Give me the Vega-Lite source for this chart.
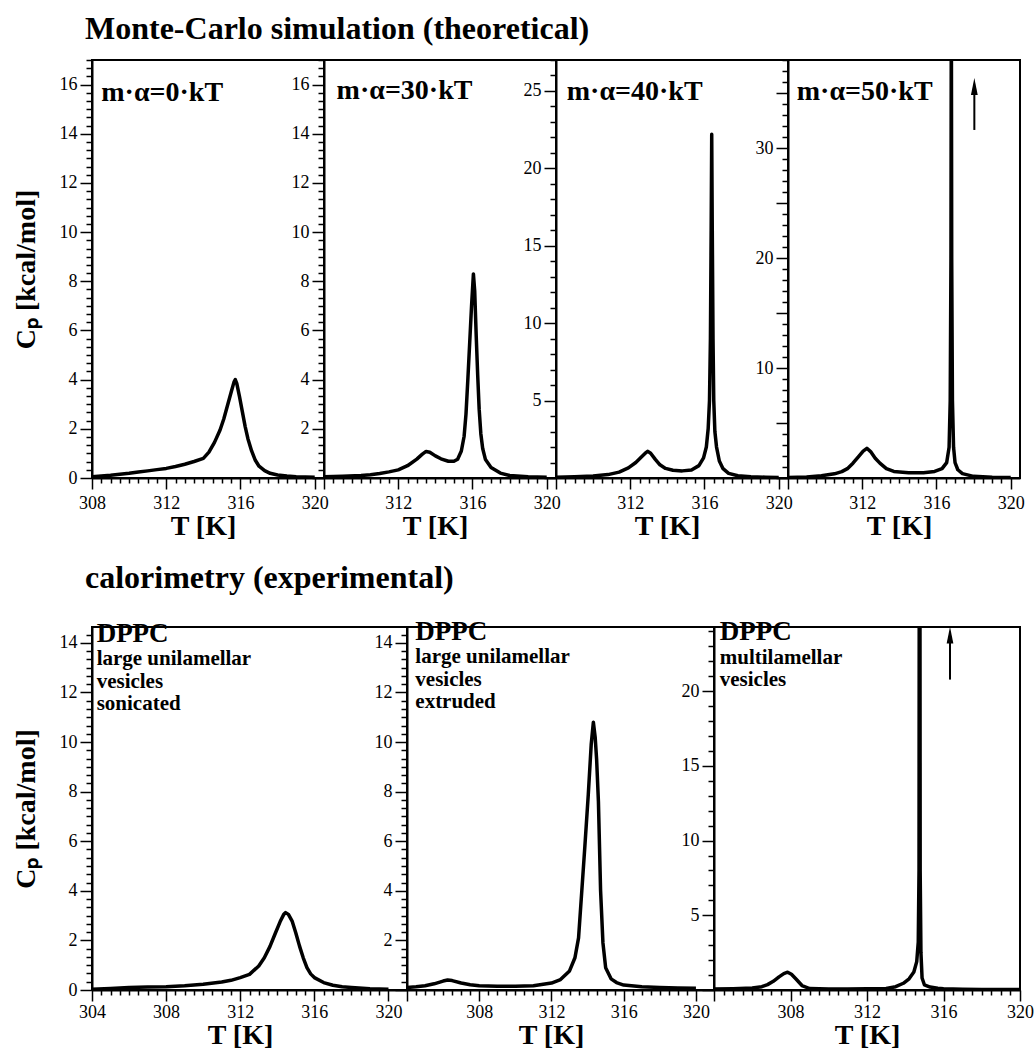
{
  "$schema": "https://vega.github.io/schema/vega-lite/v6.json",
  "padding": {"left": 11, "top": 13, "right": 0, "bottom": 0},
  "background": "white",
  "config": {
    "font": "Liberation Serif",
    "view": {"stroke": "black", "strokeWidth": 2},
    "title": {"font": "Liberation Serif", "fontSize": 32, "fontWeight": "bold", "color": "black", "anchor": "start", "frame": "group"}
  },
  "datasets": {
    "curves": [
      {"p": "p1", "T": 308.0, "Cp": 0.05}, {"p": "p1", "T": 308.5, "Cp": 0.08}, {"p": "p1", "T": 309.0, "Cp": 0.11}, {"p": "p1", "T": 309.5, "Cp": 0.15}, {"p": "p1", "T": 310.0, "Cp": 0.19}, {"p": "p1", "T": 310.5, "Cp": 0.24}, {"p": "p1", "T": 311.0, "Cp": 0.29}, {"p": "p1", "T": 311.5, "Cp": 0.34}, {"p": "p1", "T": 312.0, "Cp": 0.39}, {"p": "p1", "T": 312.5, "Cp": 0.47}, {"p": "p1", "T": 313.0, "Cp": 0.56}, {"p": "p1", "T": 313.5, "Cp": 0.67}, {"p": "p1", "T": 314.0, "Cp": 0.8}, {"p": "p1", "T": 314.3, "Cp": 1.05}, {"p": "p1", "T": 314.6, "Cp": 1.45}, {"p": "p1", "T": 314.9, "Cp": 1.95}, {"p": "p1", "T": 315.1, "Cp": 2.4}, {"p": "p1", "T": 315.3, "Cp": 2.95}, {"p": "p1", "T": 315.5, "Cp": 3.5}, {"p": "p1", "T": 315.65, "Cp": 3.9}, {"p": "p1", "T": 315.72, "Cp": 4.0}, {"p": "p1", "T": 315.8, "Cp": 3.85}, {"p": "p1", "T": 315.95, "Cp": 3.3}, {"p": "p1", "T": 316.1, "Cp": 2.7}, {"p": "p1", "T": 316.25, "Cp": 2.1}, {"p": "p1", "T": 316.4, "Cp": 1.6}, {"p": "p1", "T": 316.6, "Cp": 1.1}, {"p": "p1", "T": 316.8, "Cp": 0.72}, {"p": "p1", "T": 317.0, "Cp": 0.48}, {"p": "p1", "T": 317.3, "Cp": 0.3}, {"p": "p1", "T": 317.6, "Cp": 0.19}, {"p": "p1", "T": 318.0, "Cp": 0.12}, {"p": "p1", "T": 318.5, "Cp": 0.08}, {"p": "p1", "T": 319.0, "Cp": 0.05}, {"p": "p1", "T": 319.5, "Cp": 0.04}, {"p": "p1", "T": 320.0, "Cp": 0.03},
      {"p": "p2", "T": 308.0, "Cp": 0.05}, {"p": "p2", "T": 309.0, "Cp": 0.07}, {"p": "p2", "T": 310.0, "Cp": 0.1}, {"p": "p2", "T": 310.5, "Cp": 0.13}, {"p": "p2", "T": 311.0, "Cp": 0.18}, {"p": "p2", "T": 311.5, "Cp": 0.25}, {"p": "p2", "T": 312.0, "Cp": 0.33}, {"p": "p2", "T": 312.5, "Cp": 0.5}, {"p": "p2", "T": 313.0, "Cp": 0.77}, {"p": "p2", "T": 313.3, "Cp": 0.97}, {"p": "p2", "T": 313.5, "Cp": 1.08}, {"p": "p2", "T": 313.7, "Cp": 1.05}, {"p": "p2", "T": 314.0, "Cp": 0.9}, {"p": "p2", "T": 314.3, "Cp": 0.78}, {"p": "p2", "T": 314.7, "Cp": 0.68}, {"p": "p2", "T": 315.0, "Cp": 0.68}, {"p": "p2", "T": 315.2, "Cp": 0.76}, {"p": "p2", "T": 315.4, "Cp": 1.1}, {"p": "p2", "T": 315.55, "Cp": 1.7}, {"p": "p2", "T": 315.65, "Cp": 2.6}, {"p": "p2", "T": 315.75, "Cp": 4.0}, {"p": "p2", "T": 315.85, "Cp": 5.5}, {"p": "p2", "T": 315.95, "Cp": 7.0}, {"p": "p2", "T": 316.05, "Cp": 8.3}, {"p": "p2", "T": 316.12, "Cp": 7.6}, {"p": "p2", "T": 316.2, "Cp": 5.8}, {"p": "p2", "T": 316.28, "Cp": 4.2}, {"p": "p2", "T": 316.36, "Cp": 2.8}, {"p": "p2", "T": 316.45, "Cp": 1.8}, {"p": "p2", "T": 316.55, "Cp": 1.2}, {"p": "p2", "T": 316.7, "Cp": 0.75}, {"p": "p2", "T": 317.0, "Cp": 0.43}, {"p": "p2", "T": 317.5, "Cp": 0.2}, {"p": "p2", "T": 318.0, "Cp": 0.1}, {"p": "p2", "T": 319.0, "Cp": 0.05}, {"p": "p2", "T": 320.0, "Cp": 0.03},
      {"p": "p3", "T": 308.0, "Cp": 0.05}, {"p": "p3", "T": 309.0, "Cp": 0.08}, {"p": "p3", "T": 310.0, "Cp": 0.13}, {"p": "p3", "T": 310.8, "Cp": 0.22}, {"p": "p3", "T": 311.4, "Cp": 0.38}, {"p": "p3", "T": 311.9, "Cp": 0.65}, {"p": "p3", "T": 312.3, "Cp": 1.0}, {"p": "p3", "T": 312.6, "Cp": 1.35}, {"p": "p3", "T": 312.85, "Cp": 1.65}, {"p": "p3", "T": 312.95, "Cp": 1.72}, {"p": "p3", "T": 313.1, "Cp": 1.6}, {"p": "p3", "T": 313.35, "Cp": 1.2}, {"p": "p3", "T": 313.6, "Cp": 0.85}, {"p": "p3", "T": 313.9, "Cp": 0.62}, {"p": "p3", "T": 314.3, "Cp": 0.5}, {"p": "p3", "T": 314.8, "Cp": 0.46}, {"p": "p3", "T": 315.3, "Cp": 0.52}, {"p": "p3", "T": 315.7, "Cp": 0.8}, {"p": "p3", "T": 315.95, "Cp": 1.3}, {"p": "p3", "T": 316.1, "Cp": 2.0}, {"p": "p3", "T": 316.2, "Cp": 3.2}, {"p": "p3", "T": 316.27, "Cp": 5.0}, {"p": "p3", "T": 316.32, "Cp": 9.0}, {"p": "p3", "T": 316.36, "Cp": 16.0}, {"p": "p3", "T": 316.39, "Cp": 22.2}, {"p": "p3", "T": 316.42, "Cp": 16.0}, {"p": "p3", "T": 316.46, "Cp": 9.0}, {"p": "p3", "T": 316.5, "Cp": 5.0}, {"p": "p3", "T": 316.56, "Cp": 3.0}, {"p": "p3", "T": 316.65, "Cp": 2.0}, {"p": "p3", "T": 316.8, "Cp": 1.1}, {"p": "p3", "T": 317.0, "Cp": 0.6}, {"p": "p3", "T": 317.3, "Cp": 0.3}, {"p": "p3", "T": 317.8, "Cp": 0.15}, {"p": "p3", "T": 318.5, "Cp": 0.08}, {"p": "p3", "T": 319.3, "Cp": 0.05}, {"p": "p3", "T": 320.0, "Cp": 0.03},
      {"p": "p4", "T": 308.0, "Cp": 0.05}, {"p": "p4", "T": 309.0, "Cp": 0.1}, {"p": "p4", "T": 309.8, "Cp": 0.2}, {"p": "p4", "T": 310.5, "Cp": 0.38}, {"p": "p4", "T": 310.9, "Cp": 0.58}, {"p": "p4", "T": 311.2, "Cp": 0.85}, {"p": "p4", "T": 311.5, "Cp": 1.35}, {"p": "p4", "T": 311.8, "Cp": 1.95}, {"p": "p4", "T": 312.05, "Cp": 2.45}, {"p": "p4", "T": 312.25, "Cp": 2.7}, {"p": "p4", "T": 312.45, "Cp": 2.4}, {"p": "p4", "T": 312.7, "Cp": 1.8}, {"p": "p4", "T": 312.95, "Cp": 1.35}, {"p": "p4", "T": 313.3, "Cp": 0.85}, {"p": "p4", "T": 313.7, "Cp": 0.6}, {"p": "p4", "T": 314.5, "Cp": 0.48}, {"p": "p4", "T": 315.3, "Cp": 0.48}, {"p": "p4", "T": 315.9, "Cp": 0.6}, {"p": "p4", "T": 316.3, "Cp": 0.85}, {"p": "p4", "T": 316.55, "Cp": 1.4}, {"p": "p4", "T": 316.68, "Cp": 2.8}, {"p": "p4", "T": 316.74, "Cp": 7.0}, {"p": "p4", "T": 316.78, "Cp": 20.0}, {"p": "p4", "T": 316.8, "Cp": 45.0}, {"p": "p4", "T": 316.82, "Cp": 20.0}, {"p": "p4", "T": 316.86, "Cp": 7.0}, {"p": "p4", "T": 316.92, "Cp": 2.8}, {"p": "p4", "T": 317.0, "Cp": 1.4}, {"p": "p4", "T": 317.15, "Cp": 0.75}, {"p": "p4", "T": 317.4, "Cp": 0.4}, {"p": "p4", "T": 318.0, "Cp": 0.15}, {"p": "p4", "T": 319.0, "Cp": 0.06}, {"p": "p4", "T": 320.0, "Cp": 0.04},
      {"p": "p5", "T": 304.0, "Cp": 0.03}, {"p": "p5", "T": 305.0, "Cp": 0.06}, {"p": "p5", "T": 306.0, "Cp": 0.1}, {"p": "p5", "T": 307.0, "Cp": 0.12}, {"p": "p5", "T": 308.0, "Cp": 0.13}, {"p": "p5", "T": 309.0, "Cp": 0.17}, {"p": "p5", "T": 310.0, "Cp": 0.23}, {"p": "p5", "T": 311.0, "Cp": 0.32}, {"p": "p5", "T": 311.5, "Cp": 0.39}, {"p": "p5", "T": 312.0, "Cp": 0.5}, {"p": "p5", "T": 312.5, "Cp": 0.63}, {"p": "p5", "T": 313.0, "Cp": 0.97}, {"p": "p5", "T": 313.3, "Cp": 1.3}, {"p": "p5", "T": 313.6, "Cp": 1.75}, {"p": "p5", "T": 313.9, "Cp": 2.3}, {"p": "p5", "T": 314.15, "Cp": 2.75}, {"p": "p5", "T": 314.35, "Cp": 3.05}, {"p": "p5", "T": 314.45, "Cp": 3.12}, {"p": "p5", "T": 314.6, "Cp": 3.05}, {"p": "p5", "T": 314.8, "Cp": 2.78}, {"p": "p5", "T": 315.0, "Cp": 2.3}, {"p": "p5", "T": 315.2, "Cp": 1.77}, {"p": "p5", "T": 315.4, "Cp": 1.3}, {"p": "p5", "T": 315.6, "Cp": 0.9}, {"p": "p5", "T": 315.8, "Cp": 0.65}, {"p": "p5", "T": 316.0, "Cp": 0.5}, {"p": "p5", "T": 316.5, "Cp": 0.3}, {"p": "p5", "T": 317.0, "Cp": 0.19}, {"p": "p5", "T": 317.5, "Cp": 0.13}, {"p": "p5", "T": 318.0, "Cp": 0.1}, {"p": "p5", "T": 319.0, "Cp": 0.05}, {"p": "p5", "T": 320.0, "Cp": 0.03},
      {"p": "p6", "T": 304.0, "Cp": 0.1}, {"p": "p6", "T": 304.5, "Cp": 0.13}, {"p": "p6", "T": 305.0, "Cp": 0.17}, {"p": "p6", "T": 305.5, "Cp": 0.25}, {"p": "p6", "T": 306.0, "Cp": 0.36}, {"p": "p6", "T": 306.25, "Cp": 0.4}, {"p": "p6", "T": 306.5, "Cp": 0.38}, {"p": "p6", "T": 307.0, "Cp": 0.28}, {"p": "p6", "T": 307.5, "Cp": 0.21}, {"p": "p6", "T": 308.0, "Cp": 0.17}, {"p": "p6", "T": 309.0, "Cp": 0.15}, {"p": "p6", "T": 310.0, "Cp": 0.15}, {"p": "p6", "T": 311.0, "Cp": 0.17}, {"p": "p6", "T": 312.0, "Cp": 0.28}, {"p": "p6", "T": 312.5, "Cp": 0.42}, {"p": "p6", "T": 313.0, "Cp": 0.77}, {"p": "p6", "T": 313.3, "Cp": 1.3}, {"p": "p6", "T": 313.5, "Cp": 2.1}, {"p": "p6", "T": 313.67, "Cp": 3.9}, {"p": "p6", "T": 313.85, "Cp": 5.8}, {"p": "p6", "T": 314.04, "Cp": 7.9}, {"p": "p6", "T": 314.2, "Cp": 9.9}, {"p": "p6", "T": 314.32, "Cp": 10.8}, {"p": "p6", "T": 314.42, "Cp": 10.2}, {"p": "p6", "T": 314.5, "Cp": 9.3}, {"p": "p6", "T": 314.6, "Cp": 7.6}, {"p": "p6", "T": 314.72, "Cp": 4.0}, {"p": "p6", "T": 314.85, "Cp": 1.9}, {"p": "p6", "T": 315.0, "Cp": 0.9}, {"p": "p6", "T": 315.3, "Cp": 0.45}, {"p": "p6", "T": 315.6, "Cp": 0.3}, {"p": "p6", "T": 316.0, "Cp": 0.2}, {"p": "p6", "T": 317.0, "Cp": 0.13}, {"p": "p6", "T": 318.0, "Cp": 0.1}, {"p": "p6", "T": 319.0, "Cp": 0.08}, {"p": "p6", "T": 320.0, "Cp": 0.07},
      {"p": "p7", "T": 304.0, "Cp": 0.07}, {"p": "p7", "T": 305.0, "Cp": 0.09}, {"p": "p7", "T": 306.0, "Cp": 0.13}, {"p": "p7", "T": 306.5, "Cp": 0.22}, {"p": "p7", "T": 306.8, "Cp": 0.36}, {"p": "p7", "T": 307.1, "Cp": 0.58}, {"p": "p7", "T": 307.4, "Cp": 0.88}, {"p": "p7", "T": 307.65, "Cp": 1.1}, {"p": "p7", "T": 307.85, "Cp": 1.19}, {"p": "p7", "T": 308.05, "Cp": 1.05}, {"p": "p7", "T": 308.3, "Cp": 0.72}, {"p": "p7", "T": 308.6, "Cp": 0.3}, {"p": "p7", "T": 309.0, "Cp": 0.1}, {"p": "p7", "T": 310.0, "Cp": 0.07}, {"p": "p7", "T": 311.0, "Cp": 0.07}, {"p": "p7", "T": 312.0, "Cp": 0.08}, {"p": "p7", "T": 313.0, "Cp": 0.1}, {"p": "p7", "T": 313.5, "Cp": 0.22}, {"p": "p7", "T": 313.9, "Cp": 0.45}, {"p": "p7", "T": 314.2, "Cp": 0.75}, {"p": "p7", "T": 314.45, "Cp": 1.2}, {"p": "p7", "T": 314.6, "Cp": 1.9}, {"p": "p7", "T": 314.68, "Cp": 3.2}, {"p": "p7", "T": 314.72, "Cp": 8.0}, {"p": "p7", "T": 314.75, "Cp": 60.0}, {"p": "p7", "T": 314.78, "Cp": 8.0}, {"p": "p7", "T": 314.82, "Cp": 2.5}, {"p": "p7", "T": 314.88, "Cp": 0.8}, {"p": "p7", "T": 315.0, "Cp": 0.35}, {"p": "p7", "T": 315.3, "Cp": 0.2}, {"p": "p7", "T": 315.7, "Cp": 0.12}, {"p": "p7", "T": 316.0, "Cp": 0.08}, {"p": "p7", "T": 317.0, "Cp": 0.05}, {"p": "p7", "T": 318.0, "Cp": 0.04}, {"p": "p7", "T": 320.0, "Cp": 0.03}
    ],
    "notes": [
      {"p": "p1", "kind": "big", "T": 308.5, "Cp": 15.35, "label": "m·α=0·kT"},
      {"p": "p2", "kind": "big", "T": 308.68, "Cp": 15.4, "label": "m·α=30·kT"},
      {"p": "p3", "kind": "big", "T": 308.58, "Cp": 24.42, "label": "m·α=40·kT"},
      {"p": "p4", "kind": "big", "T": 308.47, "Cp": 34.36, "label": "m·α=50·kT"},
      {"p": "p5", "kind": "big", "T": 304.25, "Cp": 14.04, "label": "DPPC"},
      {"p": "p5", "kind": "small", "T": 304.25, "Cp": 13.1, "label": "large unilamellar"},
      {"p": "p5", "kind": "small", "T": 304.25, "Cp": 12.19, "label": "vesicles"},
      {"p": "p5", "kind": "small", "T": 304.25, "Cp": 11.29, "label": "sonicated"},
      {"p": "p6", "kind": "big", "T": 304.46, "Cp": 14.11, "label": "DPPC"},
      {"p": "p6", "kind": "small", "T": 304.46, "Cp": 13.17, "label": "large unilamellar"},
      {"p": "p6", "kind": "small", "T": 304.46, "Cp": 12.26, "label": "vesicles"},
      {"p": "p6", "kind": "small", "T": 304.46, "Cp": 11.36, "label": "extruded"},
      {"p": "p7", "kind": "big", "T": 304.3, "Cp": 23.41, "label": "DPPC"},
      {"p": "p7", "kind": "small", "T": 304.3, "Cp": 21.85, "label": "multilamellar"},
      {"p": "p7", "kind": "small", "T": 304.3, "Cp": 20.33, "label": "vesicles"}
    ],
    "arrows": [
      {"p": "p4", "T": 318.04, "Cp": 35.6, "Cp2": 31.64},
      {"p": "p7", "T": 316.34, "Cp": 23.75, "Cp2": 20.78}
    ]
  },
  "spacing": 21,
  "vconcat": [
    {
      "title": {"text": "Monte-Carlo simulation (theoretical)", "dx": -7, "offset": 4},
      "bounds": "flush",
      "spacing": 0,
      "hconcat": [
        {
          "width": 232, "height": 418,
          "encoding": {
            "x": {"field": "T", "type": "quantitative", "scale": {"domain": [308, 320.5], "nice": false, "zero": false},
              "axis": {"domainColor": "black", "domainWidth": 2, "tickColor": "black", "tickWidth": 1.5, "grid": false, "labelOverlap": false, "labelFlush": false, "labelBound": false, "labelColor": "black", "labelFont": "Liberation Serif", "labelFontSize": 18, "titleColor": "black", "titleFont": "Liberation Serif", "titleFontWeight": "bold",
                "title": "T [K]", "titleFontSize": 28, "titlePadding": 0, "titleX": 111, "labelPadding": 5,
                "values": [308,308.5,309,309.5,310,310.5,311,311.5,312,312.5,313,313.5,314,314.5,315,315.5,316,316.5,317,317.5,318,318.5,319,319.5,320],
                "labelExpr": "datum.value % 4 === 0 ? format(datum.value, 'd') : ''",
                "tickSize": {"condition": {"test": "datum.value % 4 === 0", "value": 11}, "value": 5}}},
            "y": {"field": "Cp", "type": "quantitative", "scale": {"domain": [0, 17], "nice": false, "zero": false},
              "axis": {"domainColor": "black", "domainWidth": 2, "tickColor": "black", "tickWidth": 1.5, "grid": false, "labelOverlap": false, "labelFlush": false, "labelBound": false, "labelColor": "black", "labelFont": "Liberation Serif", "labelFontSize": 18, "titleColor": "black", "titleFont": "Liberation Serif", "titleFontWeight": "bold",
                "title": "Cₚ [kcal/mol]", "titleFontSize": 28, "titlePadding": 19, "labelPadding": 3,
                "values": [0,0.333,0.667,1,1.333,1.667,2,2.333,2.667,3,3.333,3.667,4,4.333,4.667,5,5.333,5.667,6,6.333,6.667,7,7.333,7.667,8,8.333,8.667,9,9.333,9.667,10,10.333,10.667,11,11.333,11.667,12,12.333,12.667,13,13.333,13.667,14,14.333,14.667,15,15.333,15.667,16,16.333,16.667,17],
                "labelExpr": "datum.value % 2 === 0 ? format(datum.value, 'd') : ''",
                "tickSize": {"condition": {"test": "datum.value % 2 === 0", "value": 12}, "value": 6}}}
          },
          "layer": [
            {"data": {"name": "curves"}, "transform": [{"filter": "datum.p === 'p1'"}], "mark": {"type": "line", "color": "black", "strokeWidth": 3.5, "clip": true, "strokeJoin": "round"}},
            {"data": {"name": "notes"}, "transform": [{"filter": "datum.p === 'p1'"}], "mark": {"type": "text", "font": "Liberation Serif", "fontWeight": "bold", "fontSize": 28, "align": "left", "baseline": "alphabetic", "color": "black"}, "encoding": {"text": {"field": "label", "type": "nominal"}}}
          ]
        },
        {
          "width": 232, "height": 418,
          "encoding": {
            "x": {"field": "T", "type": "quantitative", "scale": {"domain": [308, 320.5], "nice": false, "zero": false},
              "axis": {"domainColor": "black", "domainWidth": 2, "tickColor": "black", "tickWidth": 1.5, "grid": false, "labelOverlap": false, "labelFlush": false, "labelBound": false, "labelColor": "black", "labelFont": "Liberation Serif", "labelFontSize": 18, "titleColor": "black", "titleFont": "Liberation Serif", "titleFontWeight": "bold",
                "title": "T [K]", "titleFontSize": 28, "titlePadding": 0, "titleX": 111, "labelPadding": 5,
                "values": [308,308.5,309,309.5,310,310.5,311,311.5,312,312.5,313,313.5,314,314.5,315,315.5,316,316.5,317,317.5,318,318.5,319,319.5,320],
                "labelExpr": "datum.value % 4 === 0 && datum.value > 308 ? format(datum.value, 'd') : ''",
                "tickSize": {"condition": {"test": "datum.value % 4 === 0", "value": 11}, "value": 5}}},
            "y": {"field": "Cp", "type": "quantitative", "scale": {"domain": [0, 17], "nice": false, "zero": false},
              "axis": {"domainColor": "black", "domainWidth": 2, "tickColor": "black", "tickWidth": 1.5, "grid": false, "labelOverlap": false, "labelFlush": false, "labelBound": false, "labelColor": "black", "labelFont": "Liberation Serif", "labelFontSize": 18,
                "title": null, "labelPadding": 3,
                "values": [0,0.333,0.667,1,1.333,1.667,2,2.333,2.667,3,3.333,3.667,4,4.333,4.667,5,5.333,5.667,6,6.333,6.667,7,7.333,7.667,8,8.333,8.667,9,9.333,9.667,10,10.333,10.667,11,11.333,11.667,12,12.333,12.667,13,13.333,13.667,14,14.333,14.667,15,15.333,15.667,16,16.333,16.667,17],
                "labelExpr": "datum.value % 2 === 0 && datum.value > 0 ? format(datum.value, 'd') : ''",
                "tickSize": {"condition": {"test": "datum.value % 2 === 0", "value": 12}, "value": 6}}}
          },
          "layer": [
            {"data": {"name": "curves"}, "transform": [{"filter": "datum.p === 'p2'"}], "mark": {"type": "line", "color": "black", "strokeWidth": 3.5, "clip": true, "strokeJoin": "round"}},
            {"data": {"name": "notes"}, "transform": [{"filter": "datum.p === 'p2'"}], "mark": {"type": "text", "font": "Liberation Serif", "fontWeight": "bold", "fontSize": 28, "align": "left", "baseline": "alphabetic", "color": "black"}, "encoding": {"text": {"field": "label", "type": "nominal"}}}
          ]
        },
        {
          "width": 232, "height": 418,
          "encoding": {
            "x": {"field": "T", "type": "quantitative", "scale": {"domain": [308, 320.5], "nice": false, "zero": false},
              "axis": {"domainColor": "black", "domainWidth": 2, "tickColor": "black", "tickWidth": 1.5, "grid": false, "labelOverlap": false, "labelFlush": false, "labelBound": false, "labelColor": "black", "labelFont": "Liberation Serif", "labelFontSize": 18, "titleColor": "black", "titleFont": "Liberation Serif", "titleFontWeight": "bold",
                "title": "T [K]", "titleFontSize": 28, "titlePadding": 0, "titleX": 111, "labelPadding": 5,
                "values": [308,308.5,309,309.5,310,310.5,311,311.5,312,312.5,313,313.5,314,314.5,315,315.5,316,316.5,317,317.5,318,318.5,319,319.5,320],
                "labelExpr": "datum.value % 4 === 0 && datum.value > 308 ? format(datum.value, 'd') : ''",
                "tickSize": {"condition": {"test": "datum.value % 4 === 0", "value": 11}, "value": 5}}},
            "y": {"field": "Cp", "type": "quantitative", "scale": {"domain": [0, 27], "nice": false, "zero": false},
              "axis": {"domainColor": "black", "domainWidth": 2, "tickColor": "black", "tickWidth": 1.5, "grid": false, "labelOverlap": false, "labelFlush": false, "labelBound": false, "labelColor": "black", "labelFont": "Liberation Serif", "labelFontSize": 18,
                "title": null, "labelPadding": 3,
                "values": [0,1,2,3,4,5,6,7,8,9,10,11,12,13,14,15,16,17,18,19,20,21,22,23,24,25,26,27],
                "labelExpr": "datum.value % 5 === 0 && datum.value > 0 ? format(datum.value, 'd') : ''",
                "tickSize": {"condition": {"test": "datum.value % 5 === 0", "value": 12}, "value": 6}}}
          },
          "layer": [
            {"data": {"name": "curves"}, "transform": [{"filter": "datum.p === 'p3'"}], "mark": {"type": "line", "color": "black", "strokeWidth": 3.5, "clip": true, "strokeJoin": "round"}},
            {"data": {"name": "notes"}, "transform": [{"filter": "datum.p === 'p3'"}], "mark": {"type": "text", "font": "Liberation Serif", "fontWeight": "bold", "fontSize": 28, "align": "left", "baseline": "alphabetic", "color": "black"}, "encoding": {"text": {"field": "label", "type": "nominal"}}}
          ]
        },
        {
          "width": 232, "height": 418,
          "encoding": {
            "x": {"field": "T", "type": "quantitative", "scale": {"domain": [308, 320.5], "nice": false, "zero": false},
              "axis": {"domainColor": "black", "domainWidth": 2, "tickColor": "black", "tickWidth": 1.5, "grid": false, "labelOverlap": false, "labelFlush": false, "labelBound": false, "labelColor": "black", "labelFont": "Liberation Serif", "labelFontSize": 18, "titleColor": "black", "titleFont": "Liberation Serif", "titleFontWeight": "bold",
                "title": "T [K]", "titleFontSize": 28, "titlePadding": 0, "titleX": 111, "labelPadding": 5,
                "values": [308,308.5,309,309.5,310,310.5,311,311.5,312,312.5,313,313.5,314,314.5,315,315.5,316,316.5,317,317.5,318,318.5,319,319.5,320],
                "labelExpr": "datum.value % 4 === 0 && datum.value > 308 ? format(datum.value, 'd') : ''",
                "tickSize": {"condition": {"test": "datum.value % 4 === 0", "value": 11}, "value": 5}}},
            "y": {"field": "Cp", "type": "quantitative", "scale": {"domain": [0, 38], "nice": false, "zero": false},
              "axis": {"domainColor": "black", "domainWidth": 2, "tickColor": "black", "tickWidth": 1.5, "grid": false, "labelOverlap": false, "labelFlush": false, "labelBound": false, "labelColor": "black", "labelFont": "Liberation Serif", "labelFontSize": 18,
                "title": null, "labelPadding": 3,
                "values": [0,1,2,3,4,5,6,7,8,9,10,11,12,13,14,15,16,17,18,19,20,21,22,23,24,25,26,27,28,29,30,31,32,33,34,35,36,37,38],
                "labelExpr": "datum.value % 10 === 0 && datum.value > 0 ? format(datum.value, 'd') : ''",
                "tickSize": {"condition": {"test": "datum.value % 5 === 0", "value": 12}, "value": 6}}}
          },
          "layer": [
            {"data": {"name": "curves"}, "transform": [{"filter": "datum.p === 'p4'"}], "mark": {"type": "line", "color": "black", "strokeWidth": 3.5, "clip": true, "strokeJoin": "round"}},
            {"data": {"name": "notes"}, "transform": [{"filter": "datum.p === 'p4'"}], "mark": {"type": "text", "font": "Liberation Serif", "fontWeight": "bold", "fontSize": 28, "align": "left", "baseline": "alphabetic", "color": "black"}, "encoding": {"text": {"field": "label", "type": "nominal"}}},
            {"data": {"name": "arrows"}, "transform": [{"filter": "datum.p === 'p4'"}], "mark": {"type": "rule", "color": "black", "strokeWidth": 2}, "encoding": {"y2": {"field": "Cp2"}}},
            {"data": {"name": "arrows"}, "transform": [{"filter": "datum.p === 'p4'"}], "mark": {"type": "point", "shape": "M0,-1L0.4,1L-0.4,1Z", "filled": true, "size": 289, "color": "black", "opacity": 1}, "encoding": {}}
          ]
        }
      ]
    },
    {
      "title": {"text": "calorimetry (experimental)", "dx": -7, "offset": 22},
      "bounds": "flush",
      "spacing": 0,
      "hconcat": [
        {
          "width": 315, "height": 363,
          "encoding": {
            "x": {"field": "T", "type": "quantitative", "scale": {"domain": [304, 321], "nice": false, "zero": false},
              "axis": {"domainColor": "black", "domainWidth": 2, "tickColor": "black", "tickWidth": 1.5, "grid": false, "labelOverlap": false, "labelFlush": false, "labelBound": false, "labelColor": "black", "labelFont": "Liberation Serif", "labelFontSize": 18, "titleColor": "black", "titleFont": "Liberation Serif", "titleFontWeight": "bold",
                "title": "T [K]", "titleFontSize": 28, "titlePadding": 0, "titleX": 148, "labelPadding": 2,
                "values": [304,304.5,305,305.5,306,306.5,307,307.5,308,308.5,309,309.5,310,310.5,311,311.5,312,312.5,313,313.5,314,314.5,315,315.5,316,316.5,317,317.5,318,318.5,319,319.5,320],
                "labelExpr": "datum.value % 4 === 0 ? format(datum.value, 'd') : ''",
                "tickSize": {"condition": {"test": "datum.value % 4 === 0", "value": 11}, "value": 5}}},
            "y": {"field": "Cp", "type": "quantitative", "scale": {"domain": [0, 14.64], "nice": false, "zero": false},
              "axis": {"domainColor": "black", "domainWidth": 2, "tickColor": "black", "tickWidth": 1.5, "grid": false, "labelOverlap": false, "labelFlush": false, "labelBound": false, "labelColor": "black", "labelFont": "Liberation Serif", "labelFontSize": 18, "titleColor": "black", "titleFont": "Liberation Serif", "titleFontWeight": "bold",
                "title": "Cₚ [kcal/mol]", "titleFontSize": 28, "titlePadding": 19, "labelPadding": 3,
                "values": [0,0.333,0.667,1,1.333,1.667,2,2.333,2.667,3,3.333,3.667,4,4.333,4.667,5,5.333,5.667,6,6.333,6.667,7,7.333,7.667,8,8.333,8.667,9,9.333,9.667,10,10.333,10.667,11,11.333,11.667,12,12.333,12.667,13,13.333,13.667,14,14.333],
                "labelExpr": "datum.value % 2 === 0 ? format(datum.value, 'd') : ''",
                "tickSize": {"condition": {"test": "datum.value % 2 === 0", "value": 12}, "value": 6}}}
          },
          "layer": [
            {"data": {"name": "curves"}, "transform": [{"filter": "datum.p === 'p5'"}], "mark": {"type": "line", "color": "black", "strokeWidth": 3.5, "clip": true, "strokeJoin": "round"}},
            {"data": {"name": "notes"}, "transform": [{"filter": "datum.p === 'p5' && datum.kind === 'big'"}], "mark": {"type": "text", "font": "Liberation Serif", "fontWeight": "bold", "fontSize": 27, "align": "left", "baseline": "alphabetic", "color": "black"}, "encoding": {"text": {"field": "label", "type": "nominal"}}},
            {"data": {"name": "notes"}, "transform": [{"filter": "datum.p === 'p5' && datum.kind === 'small'"}], "mark": {"type": "text", "font": "Liberation Serif", "fontWeight": "bold", "fontSize": 21, "align": "left", "baseline": "alphabetic", "color": "black"}, "encoding": {"text": {"field": "label", "type": "nominal"}}}
          ]
        },
        {
          "width": 307, "height": 363,
          "encoding": {
            "x": {"field": "T", "type": "quantitative", "scale": {"domain": [304, 321], "nice": false, "zero": false},
              "axis": {"domainColor": "black", "domainWidth": 2, "tickColor": "black", "tickWidth": 1.5, "grid": false, "labelOverlap": false, "labelFlush": false, "labelBound": false, "labelColor": "black", "labelFont": "Liberation Serif", "labelFontSize": 18, "titleColor": "black", "titleFont": "Liberation Serif", "titleFontWeight": "bold",
                "title": "T [K]", "titleFontSize": 28, "titlePadding": 0, "titleX": 144, "labelPadding": 2,
                "values": [304,304.5,305,305.5,306,306.5,307,307.5,308,308.5,309,309.5,310,310.5,311,311.5,312,312.5,313,313.5,314,314.5,315,315.5,316,316.5,317,317.5,318,318.5,319,319.5,320],
                "labelExpr": "datum.value % 4 === 0 && datum.value > 304 ? format(datum.value, 'd') : ''",
                "tickSize": {"condition": {"test": "datum.value % 4 === 0", "value": 11}, "value": 5}}},
            "y": {"field": "Cp", "type": "quantitative", "scale": {"domain": [0, 14.64], "nice": false, "zero": false},
              "axis": {"domainColor": "black", "domainWidth": 2, "tickColor": "black", "tickWidth": 1.5, "grid": false, "labelOverlap": false, "labelFlush": false, "labelBound": false, "labelColor": "black", "labelFont": "Liberation Serif", "labelFontSize": 18,
                "title": null, "labelPadding": 3,
                "values": [0,0.333,0.667,1,1.333,1.667,2,2.333,2.667,3,3.333,3.667,4,4.333,4.667,5,5.333,5.667,6,6.333,6.667,7,7.333,7.667,8,8.333,8.667,9,9.333,9.667,10,10.333,10.667,11,11.333,11.667,12,12.333,12.667,13,13.333,13.667,14,14.333],
                "labelExpr": "datum.value % 2 === 0 && datum.value > 0 ? format(datum.value, 'd') : ''",
                "tickSize": {"condition": {"test": "datum.value % 2 === 0", "value": 12}, "value": 6}}}
          },
          "layer": [
            {"data": {"name": "curves"}, "transform": [{"filter": "datum.p === 'p6'"}], "mark": {"type": "line", "color": "black", "strokeWidth": 3.5, "clip": true, "strokeJoin": "round"}},
            {"data": {"name": "notes"}, "transform": [{"filter": "datum.p === 'p6' && datum.kind === 'big'"}], "mark": {"type": "text", "font": "Liberation Serif", "fontWeight": "bold", "fontSize": 27, "align": "left", "baseline": "alphabetic", "color": "black"}, "encoding": {"text": {"field": "label", "type": "nominal"}}},
            {"data": {"name": "notes"}, "transform": [{"filter": "datum.p === 'p6' && datum.kind === 'small'"}], "mark": {"type": "text", "font": "Liberation Serif", "fontWeight": "bold", "fontSize": 21, "align": "left", "baseline": "alphabetic", "color": "black"}, "encoding": {"text": {"field": "label", "type": "nominal"}}}
          ]
        },
        {
          "width": 306, "height": 363,
          "encoding": {
            "x": {"field": "T", "type": "quantitative", "scale": {"domain": [304, 320], "nice": false, "zero": false},
              "axis": {"domainColor": "black", "domainWidth": 2, "tickColor": "black", "tickWidth": 1.5, "grid": false, "labelOverlap": false, "labelFlush": false, "labelBound": false, "labelColor": "black", "labelFont": "Liberation Serif", "labelFontSize": 18, "titleColor": "black", "titleFont": "Liberation Serif", "titleFontWeight": "bold",
                "title": "T [K]", "titleFontSize": 28, "titlePadding": 0, "titleX": 153, "labelPadding": 2,
                "values": [304,304.5,305,305.5,306,306.5,307,307.5,308,308.5,309,309.5,310,310.5,311,311.5,312,312.5,313,313.5,314,314.5,315,315.5,316,316.5,317,317.5,318,318.5,319,319.5,320],
                "labelExpr": "datum.value % 4 === 0 && datum.value > 304 ? format(datum.value, 'd') : ''",
                "tickSize": {"condition": {"test": "datum.value % 4 === 0", "value": 11}, "value": 5}}},
            "y": {"field": "Cp", "type": "quantitative", "scale": {"domain": [0, 24.3], "nice": false, "zero": false},
              "axis": {"domainColor": "black", "domainWidth": 2, "tickColor": "black", "tickWidth": 1.5, "grid": false, "labelOverlap": false, "labelFlush": false, "labelBound": false, "labelColor": "black", "labelFont": "Liberation Serif", "labelFontSize": 18,
                "title": null, "labelPadding": 3,
                "values": [0,1,2,3,4,5,6,7,8,9,10,11,12,13,14,15,16,17,18,19,20,21,22,23,24],
                "labelExpr": "datum.value % 5 === 0 && datum.value > 0 ? format(datum.value, 'd') : ''",
                "tickSize": {"condition": {"test": "datum.value % 5 === 0", "value": 12}, "value": 6}}}
          },
          "layer": [
            {"data": {"name": "curves"}, "transform": [{"filter": "datum.p === 'p7'"}], "mark": {"type": "line", "color": "black", "strokeWidth": 3.5, "clip": true, "strokeJoin": "round"}},
            {"data": {"name": "notes"}, "transform": [{"filter": "datum.p === 'p7' && datum.kind === 'big'"}], "mark": {"type": "text", "font": "Liberation Serif", "fontWeight": "bold", "fontSize": 27, "align": "left", "baseline": "alphabetic", "color": "black"}, "encoding": {"text": {"field": "label", "type": "nominal"}}},
            {"data": {"name": "notes"}, "transform": [{"filter": "datum.p === 'p7' && datum.kind === 'small'"}], "mark": {"type": "text", "font": "Liberation Serif", "fontWeight": "bold", "fontSize": 21, "align": "left", "baseline": "alphabetic", "color": "black"}, "encoding": {"text": {"field": "label", "type": "nominal"}}},
            {"data": {"name": "arrows"}, "transform": [{"filter": "datum.p === 'p7'"}], "mark": {"type": "rule", "color": "black", "strokeWidth": 2}, "encoding": {"y2": {"field": "Cp2"}}},
            {"data": {"name": "arrows"}, "transform": [{"filter": "datum.p === 'p7'"}], "mark": {"type": "point", "shape": "M0,-1L0.4,1L-0.4,1Z", "filled": true, "size": 280, "color": "black", "opacity": 1}, "encoding": {}}
          ]
        }
      ]
    }
  ]
}
